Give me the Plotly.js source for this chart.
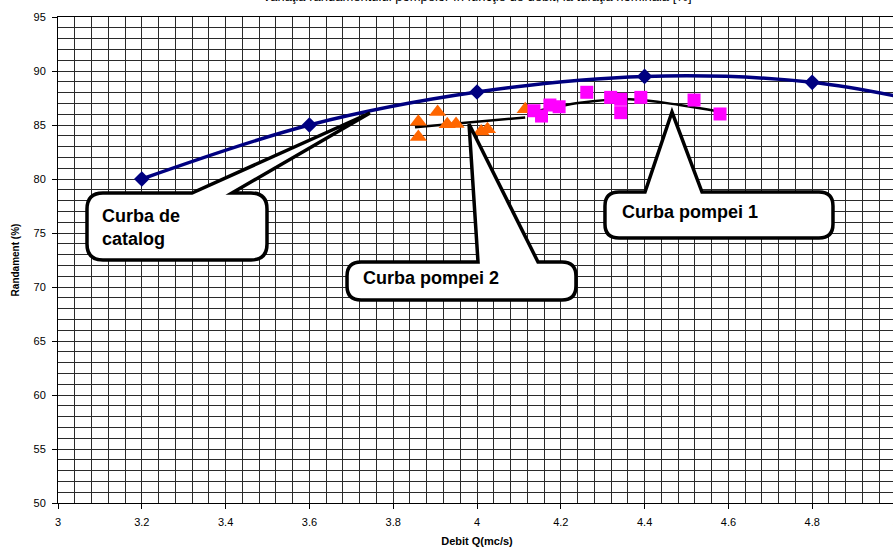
<!DOCTYPE html>
<html>
<head>
<meta charset="utf-8">
<script src="https://cdn.plot.ly/plotly-3.0.1.min.js"></script>
<style>
html,body{margin:0;padding:0;overflow:hidden;background:#fff;width:893px;height:554px;}
#chart{width:900px;height:554px;}
</style>
</head>
<body>
<div id="chart"></div>
<script>
// ---- data ----
const catalogQ   = [3.2, 3.6, 4.0, 4.4, 4.8, 5.2];
const catalogEta = [80.0, 85.0, 88.05, 89.5, 88.95, 86.0];

const pompa2Q   = [3.86, 3.86, 3.906, 3.929, 3.95, 4.01, 4.025, 4.115];
const pompa2Eta = [85.3, 83.9, 86.2, 85.06, 85.1, 84.4, 84.6, 86.45];

const pompa1Q   = [4.136, 4.154, 4.174, 4.196, 4.262, 4.319, 4.343, 4.343, 4.391, 4.518, 4.58];
const pompa1Eta = [86.32, 85.83, 86.85, 86.69, 88.03, 87.56, 87.38, 86.14, 87.56, 87.31, 86.02];

const trend2Q   = [3.852, 4.115];
const trend2Eta = [84.8, 85.7];

const trend1Q   = [4.138, 4.246, 4.365, 4.484, 4.58];
const trend1Eta = [86.23, 87.06, 87.38, 86.85, 86.23];

const xTickVals = [3, 3.2, 3.4, 3.6, 3.8, 4, 4.2, 4.4, 4.6, 4.8, 5];
const xTickText = ['3','3.2','3.4','3.6','3.8','4','4.2','4.4','4.6','4.8','5'];

const calloutLabels = ['Curba de<br>catalog', 'Curba pompei 2', 'Curba pompei 1'];

// ---- layout geometry ----
const W = 900, H = 554;
const M = {l:58, r:4, t:17, b:51};
const pw = W - M.l - M.r, ph = H - M.t - M.b;
function px(x){ return ((x - M.l)/pw).toFixed(4); }
function py(y){ return ((H - M.b - y)/ph).toFixed(4); }
function callout(x0,y0,x1,y1,r,b1,b2,tx,ty){
  const P = (x,y)=>px(x)+','+py(y);
  return 'M'+P(x0+r,y0)+' L'+P(b1,y0)+' L'+P(tx,ty)+' L'+P(b2,y0)+' L'+P(x1-r,y0)+
    ' Q'+P(x1,y0)+' '+P(x1,y0+r)+' L'+P(x1,y1-r)+' Q'+P(x1,y1)+' '+P(x1-r,y1)+
    ' L'+P(x0+r,y1)+' Q'+P(x0,y1)+' '+P(x0,y1-r)+' L'+P(x0,y0+r)+' Q'+P(x0,y0)+' '+P(x0+r,y0)+' Z';
}
const boxes = [
  {x0:87, y0:193, x1:267, y1:260, r:16, b1:192, b2:232, tx:370, ty:113, lx:100, ly:227},
  {x0:347, y0:262, x1:576, y1:300, r:14, b1:478, b2:538, tx:469, ty:124, lx:361, ly:278},
  {x0:605, y0:192, x1:833, y1:238, r:14, b1:645, b2:702, tx:672, ty:112, lx:620, ly:212}
];
const shapes = boxes.map(b=>({
  type:'path', xref:'paper', yref:'paper', layer:'above',
  path: callout(b.x0,b.y0,b.x1,b.y1,b.r,b.b1,b.b2,b.tx,b.ty),
  fillcolor:'#ffffff', line:{color:'#000000', width:3.5}
}));
const annotations = boxes.map((b,i)=>({
  xref:'paper', yref:'paper', x:+px(b.lx), y:+py(b.ly), xanchor:'left', yanchor:'middle',
  text:'<b>'+calloutLabels[i]+'</b>', showarrow:false, align:'left',
  font:{family:'Arial, Liberation Sans, sans-serif', size:18, color:'#000'}
}));

const gridCol = '#2a2a2a';
const traces = [
  {x:catalogQ, y:catalogEta, mode:'lines+markers', type:'scatter', name:'catalog',
   line:{color:'#000080', width:3.5, shape:'spline', smoothing:1},
   marker:{symbol:'diamond', size:12, color:'#000080'}},
  {x:trend2Q, y:trend2Eta, mode:'lines', type:'scatter', name:'trend 2',
   line:{color:'#000000', width:2.5}},
  {x:trend1Q, y:trend1Eta, mode:'lines', type:'scatter', name:'trend 1',
   line:{color:'#000000', width:2.5, shape:'spline', smoothing:1}},
  {x:pompa2Q, y:pompa2Eta, mode:'markers', type:'scatter', name:'pompa 2',
   marker:{symbol:'triangle-up', size:15, color:'#FF6600'}},
  {x:pompa1Q, y:pompa1Eta, mode:'markers', type:'scatter', name:'pompa 1',
   marker:{symbol:'square', size:13, color:'#FF00FF'}}
];

const layout = {
  width:W, height:H, margin:M, showlegend:false,
  paper_bgcolor:'#ffffff', plot_bgcolor:'#ffffff',
  font:{family:'Arial, Liberation Sans, sans-serif', size:11, color:'#000'},
  title:{text:'Variaţia randamentului pompelor în funcţie de debit, la turaţia nominală [%]',
         font:{size:13, color:'#000'}, x:0.5, xref:'paper', yref:'paper', y:1, yanchor:'bottom', pad:{b:16}},
  xaxis:{range:[3,5], tickvals:xTickVals, ticktext:xTickText, ticks:'outside', ticklen:5,
         tickcolor:'#000', showline:true, linecolor:'#000', linewidth:1, mirror:true,
         showgrid:true, gridcolor:gridCol, gridwidth:1, zeroline:false, ticklabelstandoff:4,
         minor:{dtick:0.04, tick0:3, showgrid:true, gridcolor:gridCol, gridwidth:1, ticks:''},
         title:{text:'<b>Debit Q(mc/s)</b>', font:{size:11}, standoff:10}},
  yaxis:{range:[50,95], dtick:5, tick0:50, ticks:'outside', ticklen:5, tickcolor:'#000',
         showline:true, linecolor:'#000', linewidth:1, mirror:true,
         showgrid:true, gridcolor:gridCol, gridwidth:1, zeroline:false, ticklabelstandoff:4,
         minor:{dtick:1, tick0:50, showgrid:true, gridcolor:gridCol, gridwidth:1, ticks:''},
         title:{text:'<b>Randament (%)</b>', font:{size:10}, standoff:12}},
  shapes:shapes, annotations:annotations
};
Plotly.newPlot('chart', traces, layout, {displayModeBar:false, staticPlot:true});
</script>
</body>
</html>
